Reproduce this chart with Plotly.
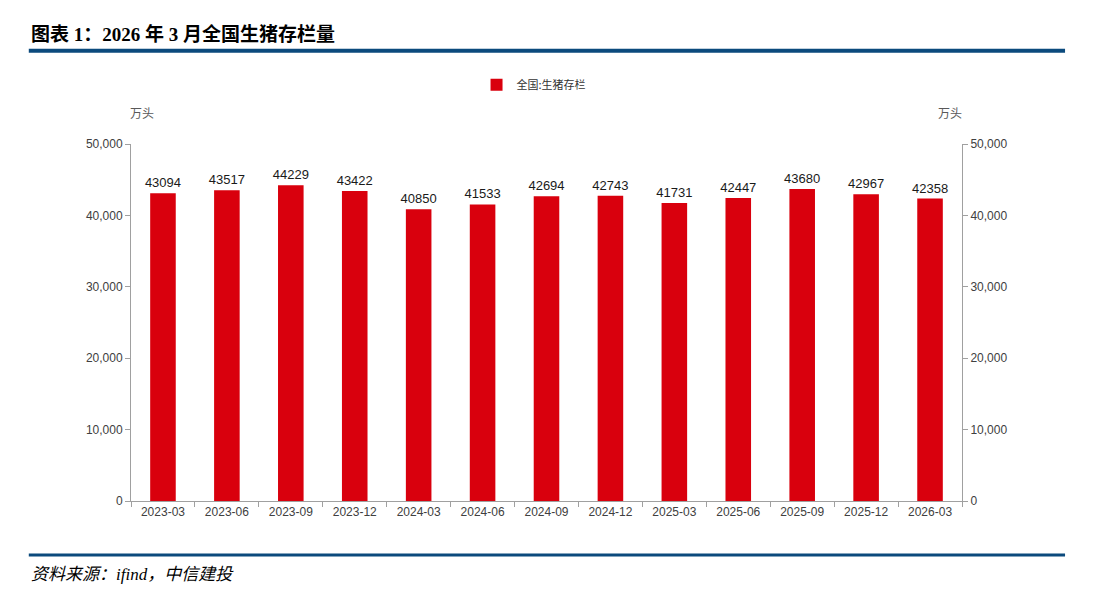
import plotly.graph_objects as go

# 全国生猪存栏（万头）
periods = ['2023-03', '2023-06', '2023-09', '2023-12', '2024-03', '2024-06', '2024-09',
           '2024-12', '2025-03', '2025-06', '2025-09', '2025-12', '2026-03']
stock = [43094, 43517, 44229, 43422, 40850, 41533, 42694,
         42743, 41731, 42447, 43680, 42967, 42358]
y_ticks = [0, 10000, 20000, 30000, 40000, 50000]
y_tick_text = ['0', '10,000', '20,000', '30,000', '40,000', '50,000']

BAR_RED = '#D9000D'
NAVY = '#0B4A7D'
GREY_AXIS = '#A0A0A0'
TICK_FONT = dict(family='Liberation Sans, Arial, sans-serif', size=12, color='#404040')

fig = go.Figure()
fig.add_trace(go.Bar(
    x=periods, y=stock, name='全国:生猪存栏',
    marker=dict(color=BAR_RED, line=dict(width=0)),
    width=0.4,
    text=[str(v) for v in stock], textposition='outside',
    textfont=dict(family='Liberation Sans, Arial, sans-serif', size=13, color='#1a1a1a'),
    constraintext='none',
    cliponaxis=False,
))
# invisible helper so the right axis is drawn
fig.add_trace(go.Scatter(x=periods, y=stock, yaxis='y2', mode='none',
                         showlegend=False, hoverinfo='skip'))

axis_common = dict(
    range=[0, 50000], tickvals=y_ticks, ticktext=y_tick_text,
    showgrid=False, zeroline=False, showline=True, linecolor=GREY_AXIS, linewidth=1,
    ticks='outside', ticklen=5, tickcolor=GREY_AXIS, tickfont=TICK_FONT,
)

fig.update_layout(
    width=1114, height=616,
    margin=dict(l=123, r=160, t=136, b=123),
    paper_bgcolor='white', plot_bgcolor='white',
    font=dict(family='Liberation Sans, Noto Sans CJK SC, sans-serif'),
    bargap=0.6,
    showlegend=True,
    legend=dict(orientation='h', x=0.485, xanchor='center', y=1.166, yanchor='middle',
                font=dict(family='Noto Sans CJK SC, sans-serif', size=11, color='#333333'),
                itemwidth=30),
    xaxis=dict(type='category', showline=True, linecolor=GREY_AXIS, linewidth=1,
               ticks='outside', ticklen=5, tickcolor=GREY_AXIS, tickson='boundaries',
               tickfont=TICK_FONT, showgrid=False),
    yaxis=dict(side='left', **axis_common),
    yaxis2=dict(side='right', overlaying='y', **axis_common),
)

# headline, rules and notes
fig.add_annotation(text='<b>图表 1：2026 年 3 月全国生猪存栏量</b>', xref='paper', yref='paper',
                   x=-0.123, y=1.309, xanchor='left', yanchor='middle', showarrow=False,
                   font=dict(family='Liberation Serif, Noto Sans CJK SC, serif', size=19, color='black'))
fig.add_shape(type='line', xref='paper', yref='paper', x0=-0.123, x1=1.124, y0=1.261, y1=1.261,
              line=dict(color=NAVY, width=4))
fig.add_shape(type='line', xref='paper', yref='paper', x0=-0.123, x1=1.124, y0=-0.151, y1=-0.151,
              line=dict(color=NAVY, width=3))
fig.add_annotation(text='<i>资料来源：ifind，中信建投</i>', xref='paper', yref='paper',
                   x=-0.123, y=-0.207, xanchor='left', yanchor='middle', showarrow=False,
                   font=dict(family='Liberation Serif, Noto Sans CJK SC, serif', size=17, color='black'))
for xpos in (0.013, 0.985):
    fig.add_annotation(text='万头', xref='paper', yref='paper', x=xpos, y=1.087,
                       xanchor='center', yanchor='middle', showarrow=False,
                       font=dict(family='Noto Sans CJK SC, sans-serif', size=12, color='#595959'))

fig.write_html('out.html')
